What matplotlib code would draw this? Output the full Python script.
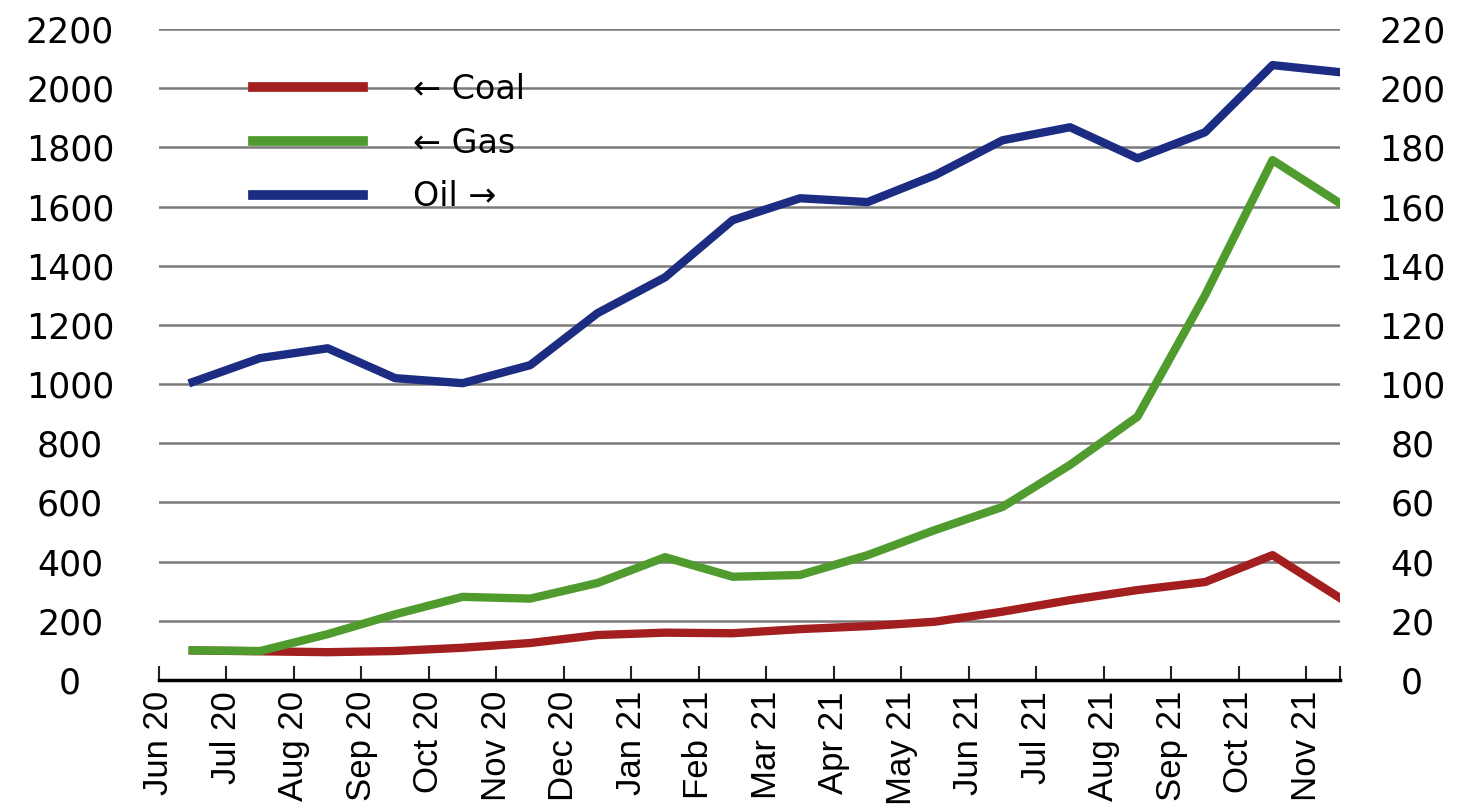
import numpy as np
import matplotlib
matplotlib.use("Agg")
import matplotlib.pyplot as plt
from matplotlib.lines import Line2D

months = ["Jun 20", "Jul 20", "Aug 20", "Sep 20", "Oct 20", "Nov 20", "Dec 20",
          "Jan 21", "Feb 21", "Mar 21", "Apr 21", "May 21", "Jun 21", "Jul 21",
          "Aug 21", "Sep 21", "Oct 21", "Nov 21"]

# left axis (coal, gas), right axis (oil)
coal = [100, 97, 94, 98, 109, 125, 152, 160, 158, 172, 182, 197, 231, 270, 304, 331, 422, 277]
gas = [100, 98, 155, 222, 281, 275, 328, 415, 349, 355, 422, 507, 585, 727, 890, 1300, 1757, 1611]
oil = [100.7, 108.8, 112.1, 102.0, 100.3, 106.4, 124.0, 136.1, 155.4, 162.8, 161.5,
       170.6, 182.4, 186.8, 176.3, 185.1, 207.8, 205.4]

left_ticks = list(range(0, 2201, 200))
right_ticks = list(range(0, 221, 20))

c_coal = "#a31f1f"
c_gas = "#4f9b2d"
c_oil = "#1b2c82"

x = np.arange(len(months)) + 0.5

fig = plt.figure(figsize=(14.57, 8.10), dpi=100)
ax = fig.add_axes([159 / 1457, 1 - 680 / 810, (1340 - 159) / 1457, (680 - 29) / 810])
ax2 = ax.twinx()

ax.plot(x, coal, color=c_coal, lw=6, zorder=3)
ax.plot(x, gas, color=c_gas, lw=6, zorder=4)
ax2.plot(x, oil, color=c_oil, lw=6, zorder=3)

ax.set_xlim(0, 17.5)
ax.set_ylim(0, 2200)
ax2.set_ylim(0, 220)

ax.set_yticks(left_ticks)
ax.set_yticklabels([str(v) for v in left_ticks], fontsize=25, family="DejaVu Sans", ha="center")
ax2.set_yticks(right_ticks)
ax2.set_yticklabels([str(v) for v in right_ticks], fontsize=25, family="DejaVu Sans", ha="center")
ax.tick_params(axis="y", length=0, pad=64)
ax2.tick_params(axis="y", length=0, pad=52)

ax.set_xticks(np.arange(len(months)))
ax.set_xticklabels(months, rotation=90, fontsize=25, family="Liberation Sans")
ax.set_xticks([17.5], minor=True)
ax.tick_params(axis="x", which="both", direction="in", length=10, width=1.5, pad=8, color="#222222")

ax.grid(axis="y", color="#7a7a7a", lw=1.8)
ax.grid(axis="x", visible=False)
ax.set_axisbelow(True)

for a in (ax, ax2):
    for s in ("left", "right", "top"):
        a.spines[s].set_visible(False)
    a.spines["bottom"].set_linewidth(2.5)
    a.spines["bottom"].set_color("black")
ax2.spines["bottom"].set_visible(False)

handles = [Line2D([], [], color=c_coal, lw=7),
           Line2D([], [], color=c_gas, lw=7),
           Line2D([], [], color=c_oil, lw=7)]
labels = ["\u2190 Coal", "\u2190 Gas", "Oil \u2192"]
leg = ax2.legend(handles, labels, loc="upper left",
                 bbox_to_anchor=(253 / 1457, 1 - 73 / 810), bbox_transform=fig.transFigure,
                 frameon=False, borderpad=0, borderaxespad=0, handlelength=3.3,
                 handletextpad=1.5, labelspacing=0.62,
                 prop={"family": "DejaVu Sans", "size": 24})

fig.savefig("out.png", dpi=100)
